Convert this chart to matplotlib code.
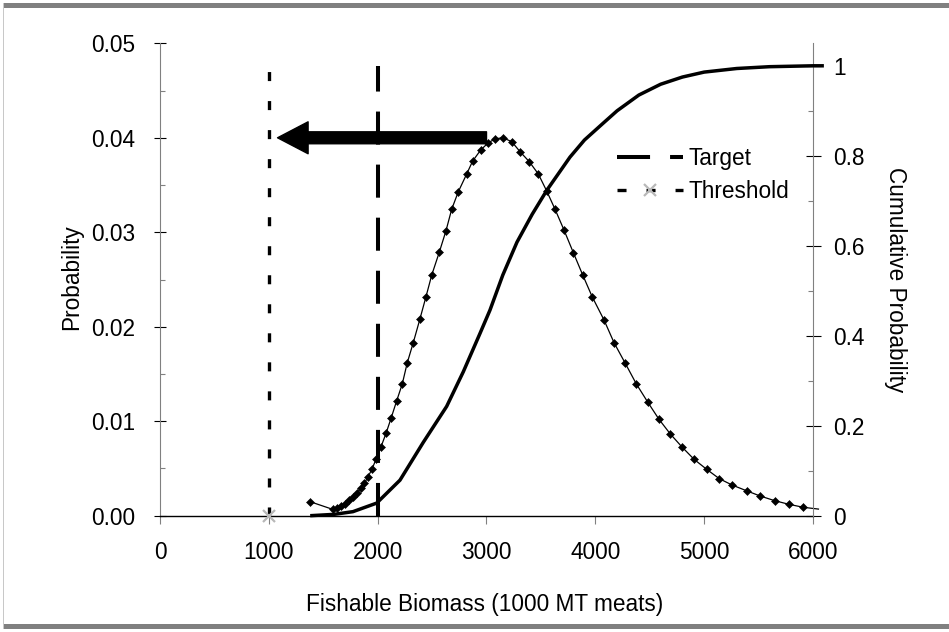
import matplotlib
matplotlib.use("Agg")
import matplotlib.pyplot as plt
from matplotlib.lines import Line2D
from matplotlib.patches import Rectangle
from matplotlib.ticker import MultipleLocator, FormatStrFormatter, FuncFormatter

plt.rcParams['font.family'] = ['Liberation Sans', 'DejaVu Sans']
plt.rcParams['lines.scale_dashes'] = False

# Probability of each biomass value (left axis)
biomass = [1380, 1590, 1626, 1663, 1700, 1737, 1773, 1810, 1847, 1879,
           1911, 1948, 1985, 2031, 2077, 2123, 2175, 2226, 2272, 2327,
           2389, 2444, 2497, 2566, 2628, 2680, 2741, 2818, 2873, 2947,
           3017, 3078, 3149, 3232, 3308, 3393, 3476, 3553, 3630, 3712,
           3798, 3884, 3972, 4080, 4172, 4275, 4377, 4481, 4585, 4689,
           4794, 4907, 5023, 5139, 5256, 5396, 5513, 5648, 5777, 5911, 6050]
probability = [0.00148, 0.00066, 0.00081, 0.00103, 0.00129, 0.00161, 0.00198, 0.00240, 0.00293, 0.00346,
               0.00410, 0.00494, 0.00597, 0.00730, 0.00872, 0.01031, 0.01217, 0.01394, 0.01619, 0.01831,
               0.02085, 0.02318, 0.02548, 0.02788, 0.03017, 0.03243, 0.03429, 0.03617, 0.03754, 0.03871,
               0.03948, 0.03987, 0.04001, 0.03959, 0.03853, 0.03747, 0.03617, 0.03437, 0.03243, 0.03024,
               0.02784, 0.02548, 0.02315, 0.02071, 0.01831, 0.01613, 0.01394, 0.01203, 0.01020, 0.00865,
               0.00730, 0.00597, 0.00491, 0.00392, 0.00325, 0.00261, 0.00209, 0.00159, 0.00121, 0.00089, 0.00070]

# Cumulative probability (right axis)
cum_biomass = [1380, 1600, 1773, 1991, 2205, 2419, 2634, 2787, 2940, 3032,
               3150, 3280, 3420, 3556, 3767, 3900, 4070, 4200, 4400, 4600,
               4800, 5000, 5300, 5600, 6000, 6100]
cum_probability = [0.000, 0.003, 0.009, 0.028, 0.079, 0.163, 0.243, 0.320, 0.405, 0.457,
                   0.535, 0.608, 0.670, 0.724, 0.797, 0.835, 0.872, 0.900, 0.935, 0.959,
                   0.975, 0.986, 0.994, 0.998, 1.000, 1.000]

# Reference points
target_x = 2000
threshold_x = 1000
ref_span = [0, 1]
arrow_from = 3000
arrow_to = 1080
arrow_level = 0.04

W, H = 949, 632
fig = plt.figure(figsize=(W / 100, H / 100), dpi=100)
ax_left, ax_right, ax_top, ax_bottom = 160, 813, 43.3, 515.7
ax = fig.add_axes([ax_left / W, 1 - ax_bottom / H,
                   (ax_right - ax_left) / W, (ax_bottom - ax_top) / H])
ax2 = ax.twinx()

FS = 16.3
axis_grey = '#808080'

# density line and markers
ax.plot(biomass, probability, color='black', lw=0.9, clip_on=False, zorder=3)
ax.plot(biomass, probability, linestyle='none', marker='D', markersize=4.3,
        color='black', markeredgewidth=0.4, zorder=4)

# arrow
ax.annotate('', xy=(arrow_to, arrow_level), xytext=(arrow_from, arrow_level),
            arrowprops=dict(arrowstyle='simple,head_width=23,head_length=22,tail_width=8.6',
                            mutation_scale=1, color='black', shrinkA=0, shrinkB=0),
            zorder=5)

ax.set_xlim(0, 6000)
ax.set_ylim(0, 0.05)
ax2.set_ylim(0, 1.05)

# cumulative curve
ax2.plot(cum_biomass, cum_probability, color='black', lw=2.5, clip_on=False,
         solid_capstyle='butt', solid_joinstyle='round', zorder=3)

# target and threshold lines
ax2.plot([target_x, target_x], ref_span, color='black', lw=2.9,
         linestyle=(0, (23.8, 14.4)), dash_capstyle='butt', zorder=2)
ax2.plot([threshold_x, threshold_x], ref_span, color='black', lw=2.4,
         linestyle=(0, (6.5, 14.4)), dash_capstyle='butt', zorder=2)
ax2.plot([threshold_x], [0], linestyle='none', marker='x', markersize=9,
         markeredgewidth=1.6, color='#b8b8b8', clip_on=False, zorder=6)

# spines
for side in ('top', 'right'):
    ax.spines[side].set_visible(False)
ax.spines['left'].set_color(axis_grey)
ax.spines['bottom'].set_color('black')
ax.spines['bottom'].set_linewidth(1.0)
for side in ('top', 'left', 'bottom'):
    ax2.spines[side].set_visible(False)
ax2.spines['right'].set_color(axis_grey)

# x axis ticks
ax.xaxis.set_major_locator(MultipleLocator(1000))
ax.tick_params(axis='x', which='major', direction='out', length=5.4, width=0.8,
               color=axis_grey, pad=12.5, labelsize=FS)

# left axis ticks
ax.yaxis.set_major_locator(MultipleLocator(0.01))
ax.yaxis.set_minor_locator(MultipleLocator(0.005))
ax.yaxis.set_major_formatter(FormatStrFormatter('%.2f'))
ax.tick_params(axis='y', which='major', direction='inout', length=8.6, width=0.8,
               color='black', pad=13.5, labelsize=FS)
ax.tick_params(axis='y', which='minor', direction='in', length=3.6, width=0.8,
               color=axis_grey)

# right axis ticks
ax2.yaxis.set_major_locator(MultipleLocator(0.2))
ax2.yaxis.set_minor_locator(MultipleLocator(0.1))
ax2.yaxis.set_major_formatter(FuncFormatter(lambda v, p: f'{v:g}' if v <= 1.0001 else ''))
ax2.tick_params(axis='y', which='major', direction='inout', length=10.8, width=0.8,
                color='black', pad=9, labelsize=FS)
ax2.tick_params(axis='y', which='minor', direction='in', length=3.6, width=0.8,
                color=axis_grey)

# axis titles
fig.text(485 / W, 1 - 604 / H, 'Fishable Biomass (1000 MT meats)', ha='center', va='center', fontsize=FS)
fig.text(72 / W, 1 - 277 / H, 'Probability', ha='center', va='center', rotation=90, fontsize=FS)
fig.text(896 / W, 1 - 280 / H, 'Cumulative Probability', ha='center', va='center', rotation=-90, fontsize=FS)

# legend
h_target = Line2D([], [], color='black', lw=2.9, linestyle=(0, (23.8, 14.4)), dash_capstyle='butt')
h_threshold = Line2D([], [], color='black', lw=2.4, linestyle=(0, (6.5, 14.4)), dash_capstyle='butt',
                     marker='x', markersize=9, markeredgewidth=1.6, markeredgecolor='#b8b8b8')
leg = ax2.legend([h_target, h_threshold], ['Target', 'Threshold'], loc='upper left',
                 bbox_to_anchor=(617 / W, 1 - 147 / H), bbox_transform=fig.transFigure,
                 frameon=False, fontsize=FS, handlelength=2.9, handletextpad=0.25,
                 labelspacing=0.45, borderpad=0, borderaxespad=0, numpoints=1)

# outer frame
fig.add_artist(Rectangle((3 / W, 1 - 8 / H), 1, 5 / H, transform=fig.transFigure,
                         facecolor=axis_grey, edgecolor='none'))
fig.add_artist(Rectangle((3 / W, 1 - 629 / H), 1, 5 / H, transform=fig.transFigure,
                         facecolor=axis_grey, edgecolor='none'))
fig.add_artist(Rectangle((3 / W, 1 - 629 / H), 1 / W, 626 / H, transform=fig.transFigure,
                         facecolor='#c8c8c8', edgecolor='none'))

fig.savefig('out.png', dpi=100)
